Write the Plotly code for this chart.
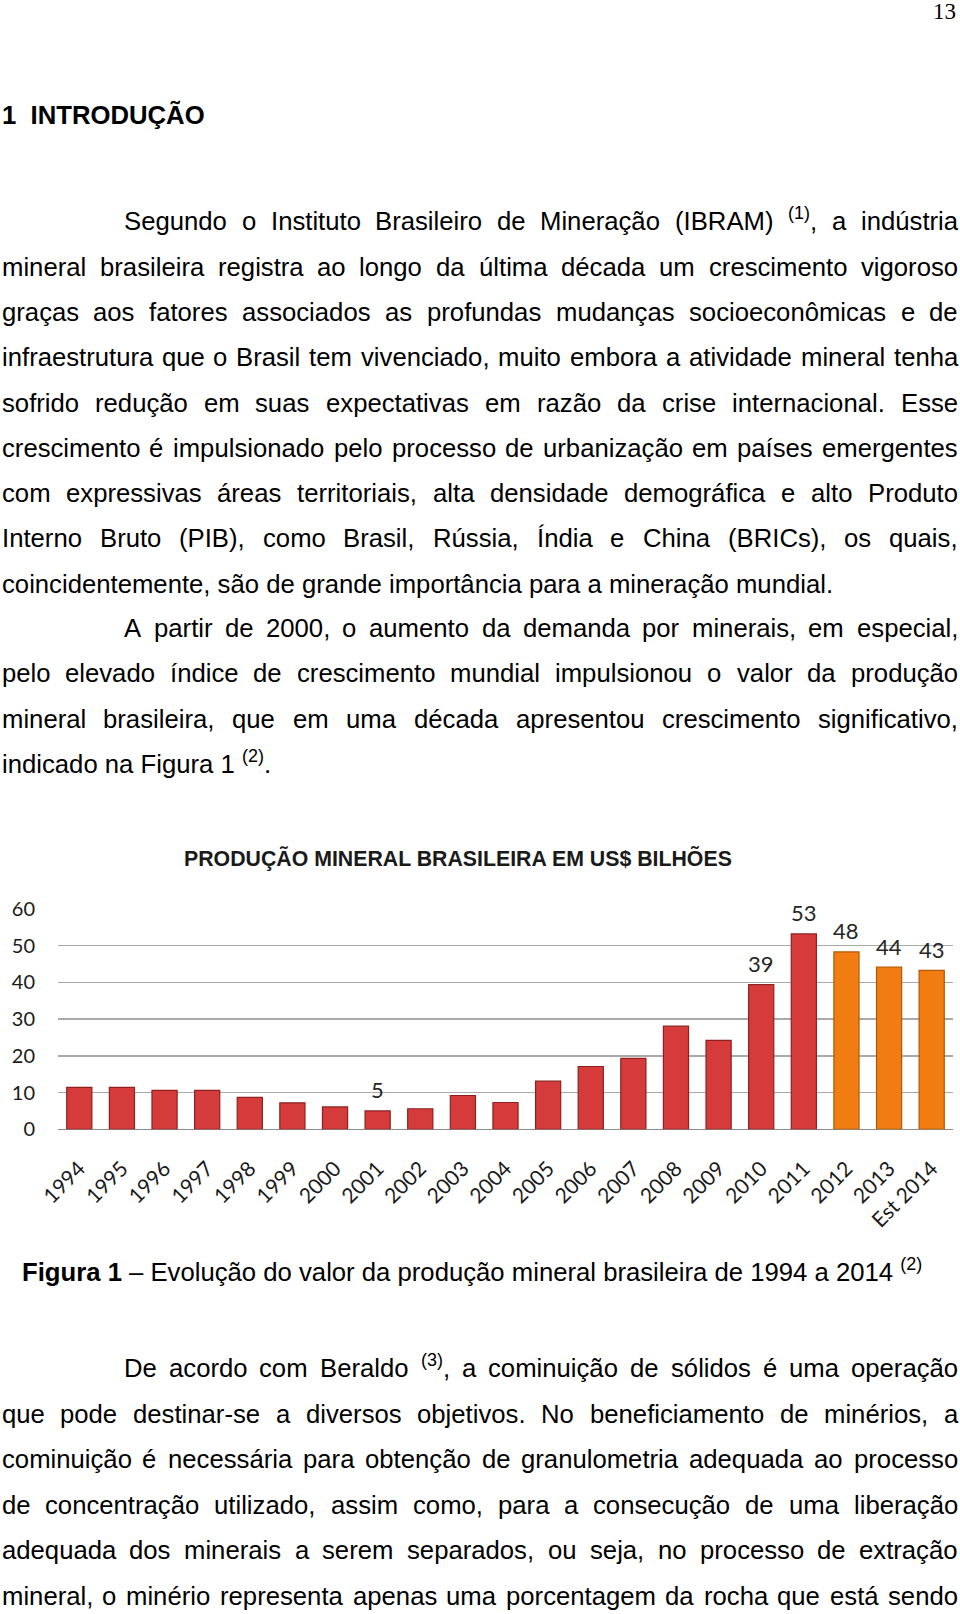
import re
import plotly.graph_objects as go

# ---------------- chart data ----------------
years = ["1994", "1995", "1996", "1997", "1998", "1999", "2000", "2001", "2002", "2003",
         "2004", "2005", "2006", "2007", "2008", "2009", "2010", "2011", "2012", "2013", "Est 2014"]
values = [11.4, 11.4, 10.6, 10.6, 8.7, 7.2, 6.1, 5.0, 5.6, 9.2,
          7.3, 13.1, 17.1, 19.3, 28.1, 24.2, 39.4, 53.2, 48.3, 44.2, 43.3]
bar_group = ["real"] * 18 + ["proj"] * 3
label_years = ["2001", "2010", "2011", "2012", "2013", "Est 2014"]
label_values = [5, 39, 53, 48, 44, 43]
y_ticks = [0, 10, 20, 30, 40, 50, 60]
chart_title = "PRODUÇÃO MINERAL BRASILEIRA EM US$ BILHÕES"

# ---------------- page text ----------------
page_number = "13"
heading = "1\u00a0 INTRODUÇÃO"
para_lines = [
    # (text, indented, justified, y center px)
    ("Segundo o Instituto Brasileiro de Mineração (IBRAM) <sup>(1)</sup>, a indústria", True, True, 222),
    ("mineral brasileira registra ao longo da última década um crescimento vigoroso", False, True, 267.5),
    ("graças aos fatores associados as profundas mudanças socioeconômicas e de", False, True, 312.8),
    ("infraestrutura que o Brasil tem vivenciado, muito embora a atividade mineral tenha", False, True, 358.1),
    ("sofrido redução em suas expectativas em razão da crise internacional. Esse", False, True, 403.3),
    ("crescimento é impulsionado pelo processo de urbanização em países emergentes", False, True, 448.6),
    ("com expressivas áreas territoriais, alta densidade demográfica e alto Produto", False, True, 493.9),
    ("Interno Bruto (PIB), como Brasil, Rússia, Índia e China (BRICs), os quais,", False, True, 539.1),
    ("coincidentemente, são de grande importância para a mineração mundial.", False, False, 584.4),
    ("A partir de 2000, o aumento da demanda por minerais, em especial,", True, True, 628.7),
    ("pelo elevado índice de crescimento mundial impulsionou o valor da produção", False, True, 673.9),
    ("mineral brasileira, que em uma década apresentou crescimento significativo,", False, True, 719.2),
    ("indicado na Figura 1 <sup>(2)</sup>.", False, False, 764.5),
    ("De acordo com Beraldo <sup>(3)</sup>, a cominuição de sólidos é uma operação", True, True, 1368.4),
    ("que pode destinar-se a diversos objetivos. No beneficiamento de minérios, a", False, True, 1414.7),
    ("cominuição é necessária para obtenção de granulometria adequada ao processo", False, True, 1460.0),
    ("de concentração utilizado, assim como, para a consecução de uma liberação", False, True, 1505.3),
    ("adequada dos minerais a serem separados, ou seja, no processo de extração", False, True, 1550.6),
    ("mineral, o minério representa apenas uma porcentagem da rocha que está sendo", False, True, 1597.0),
]
caption = "<b>Figura 1</b> – Evolução do valor da produção mineral brasileira de 1994 a 2014 <sup>(2)</sup>"

W_PAGE, H_PAGE = 960, 1614
FS = 25.7
SANS = "Liberation Sans, Arial, sans-serif"
CHART_FONT = "Lato, Carlito, sans-serif"

# Helvetica/Arial advance widths (per 1000 em)
AW = {' ': 278, '!': 278, '"': 355, '$': 556, '%': 889, '(': 333, ')': 333, ',': 278, '-': 333,
      '.': 278, '/': 278, ':': 278, ';': 278, '?': 556,
      'A': 667, 'B': 667, 'C': 722, 'D': 722, 'E': 667, 'F': 611, 'G': 778, 'H': 722, 'I': 278,
      'J': 500, 'K': 667, 'L': 556, 'M': 833, 'N': 722, 'O': 778, 'P': 667, 'Q': 778, 'R': 722,
      'S': 667, 'T': 611, 'U': 722, 'V': 667, 'W': 944, 'X': 667, 'Y': 667, 'Z': 611,
      'a': 556, 'b': 556, 'c': 500, 'd': 556, 'e': 556, 'f': 278, 'g': 556, 'h': 556, 'i': 222,
      'j': 222, 'k': 500, 'l': 222, 'm': 833, 'n': 556, 'o': 556, 'p': 556, 'q': 556, 'r': 333,
      's': 500, 't': 278, 'u': 556, 'v': 500, 'w': 722, 'x': 500, 'y': 500, 'z': 500,
      'á': 556, 'à': 556, 'â': 556, 'ã': 556, 'é': 556, 'ê': 556, 'í': 278, 'ó': 556, 'ô': 556,
      'õ': 556, 'ú': 556, 'ç': 500, 'Í': 278, 'Ç': 722, 'Ã': 722, 'Õ': 778}


def text_w(s, size):
    total = 0.0
    for part in re.split(r'(<sup>.*?</sup>)', s):
        if part.startswith('<sup>'):
            total += sum(AW.get(c, 556) for c in part[5:-6]) * 0.7
        else:
            total += sum(AW.get(c, 556) for c in part)
    return total * size / 1000.0


def px(x):
    return x / W_PAGE


def py(y):
    return 1 - y / H_PAGE


annotations = []
LEFT, RIGHT, INDENT = 0.5, 957, 123


def add_text(txt, x, yc, size=FS, family=SANS, anchor="left"):
    annotations.append(dict(text=txt, x=px(x), y=py(yc + 0.56 * size), xref="paper", yref="paper",
                            xanchor=anchor, yanchor="bottom", showarrow=False, borderpad=0,
                            font=dict(family=family, size=size, color="#000000")))


for txt, indented, justified, yc in para_lines:
    x0 = INDENT if indented else LEFT
    if justified:
        words = txt.split(" ")
        widths = [text_w(w, FS) for w in words]
        gap = (RIGHT - x0 - sum(widths)) / (len(words) - 1)
        x = x0
        for w, wd in zip(words, widths):
            add_text(w, x, yc)
            x += wd + gap
    else:
        add_text(txt, x0, yc)

add_text("<b>" + heading + "</b>", LEFT, 116)
add_text(caption, 21, 1272.7)
add_text(page_number, 957, 12.5, size=23, family="Liberation Serif, Times New Roman, serif", anchor="right")

# chart title
annotations.append(dict(text="<b>" + chart_title + "</b>", x=px(458), y=py(858), xref="paper", yref="paper",
                        xanchor="center", yanchor="middle", showarrow=False,
                        font=dict(family=SANS, size=21.3, color="#1a1a1a")))

# value labels (data driven: category index + bar value)
for yr, v in zip(label_years, label_values):
    i = years.index(yr)
    annotations.append(dict(text=str(v), x=i, y=values[i], xref="x", yref="y",
                            xanchor="center", yanchor="middle", yshift=21, showarrow=False,
                            font=dict(family=CHART_FONT, size=22, color="#262626")))

fill = {"real": "#d53b3b", "proj": "#f07c12"}
edge = {"real": "#8e2020", "proj": "#b05806"}

fig = go.Figure(go.Bar(
    x=list(range(len(years))), y=values,
    marker=dict(color=[fill[g] for g in bar_group],
                line=dict(color=[edge[g] for g in bar_group], width=1.2)),
    hoverinfo="skip",
))

# plot area: y=0 at 1129.3px, y=60 at 909px; x from 58 to 953px
fig.update_layout(
    width=W_PAGE, height=H_PAGE, autosize=False,
    margin=dict(l=0, r=0, t=0, b=0, autoexpand=False),
    paper_bgcolor="white", plot_bgcolor="white",
    showlegend=False, bargap=0.41,
    annotations=annotations,
    xaxis=dict(domain=[px(58), px(953)], range=[-0.5, len(years) - 0.5], autorange=False,
               tickmode="array", tickvals=list(range(len(years))), ticktext=years, tickangle=-45,
               tickfont=dict(family=CHART_FONT, size=21, color="#1a1a1a"),
               showgrid=False, showline=False, zeroline=False, ticks="", ticklabelstandoff=22,
               automargin=False, fixedrange=True),
    yaxis=dict(domain=[py(1129.3), py(909)], range=[0, 60], autorange=False, tickvals=y_ticks,
               tickfont=dict(family=CHART_FONT, size=20, color="#1a1a1a"),
               showgrid=True, gridcolor="#a9a9a9", gridwidth=1.5,
               zeroline=True, zerolinecolor="#8c8c8c", zerolinewidth=1.5,
               showline=False, ticks="", ticklabelstandoff=22, automargin=False, fixedrange=True),
)

fig.write_html("out.html", config={"displayModeBar": False, "staticPlot": True},
               post_script="document.body.style.margin='0px';document.body.style.overflow='hidden';")
